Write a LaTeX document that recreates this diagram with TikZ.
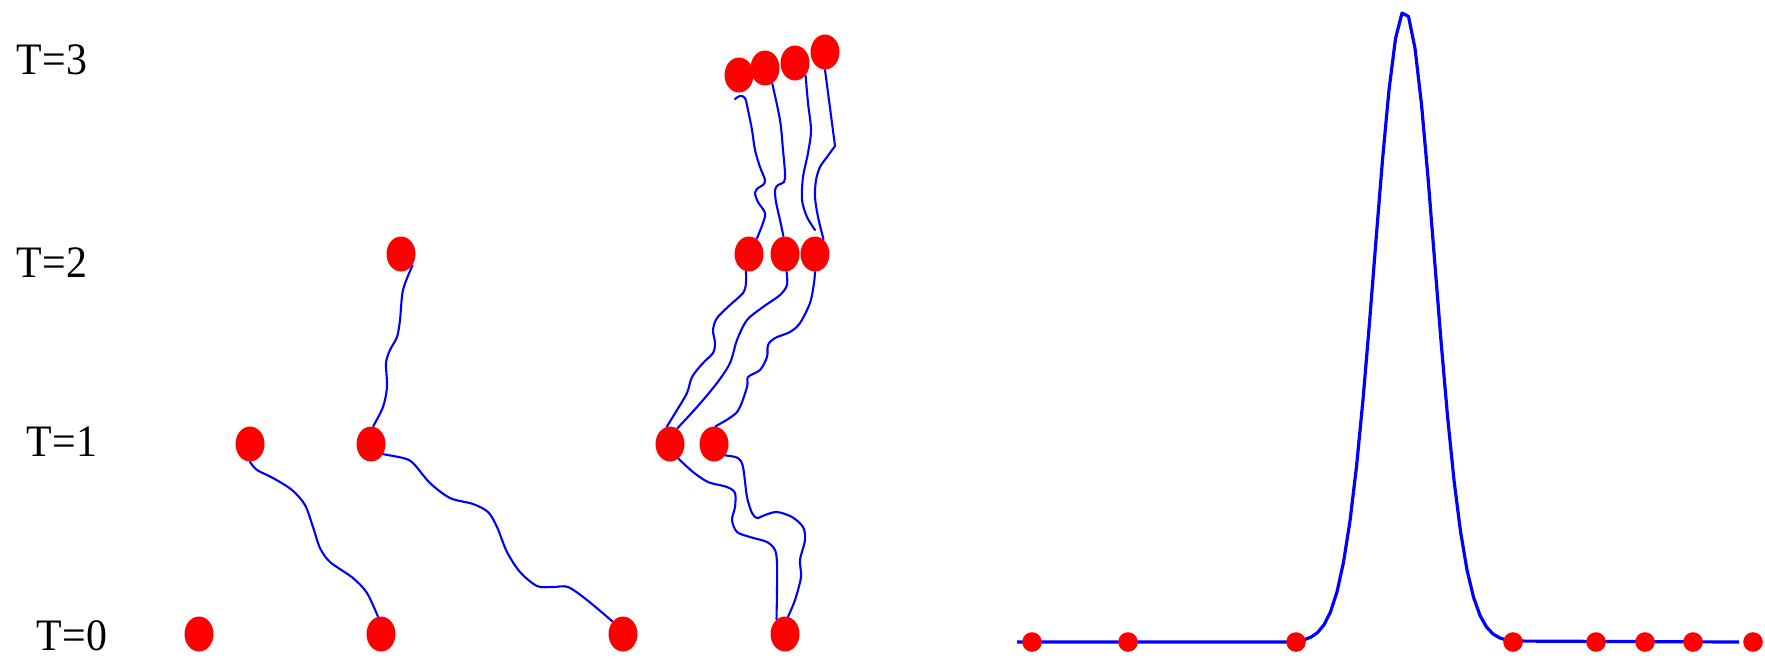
\documentclass[tikz,border=0pt]{standalone}
\usepackage{fontspec}
\setmainfont{Liberation Serif}
\newfontfamily\lblfont[FakeStretch=0.93]{Liberation Serif}
\usetikzlibrary{shapes.geometric,backgrounds}
\begin{document}
\begin{tikzpicture}[x=0.5pt,y=-0.5pt,
  dot/.style={ellipse, fill=red, minimum width=14.5pt, minimum height=17.5pt, inner sep=0pt},
  sdot/.style={circle, fill=red, minimum size=9.8pt, inner sep=0pt},
  walk/.style={draw=blue, line width=1.05pt, line cap=round, line join=round},
  gauss/.style={draw=blue, line width=1.6pt, line join=round},
  lbl/.style={font=\lblfont\fontsize{22.5}{22.5}\selectfont, inner sep=0pt}]
\useasboundingbox (0,0) rectangle (1765,659);
% labels
\node[lbl] (l3) at (52,60) {T=3};
\node[lbl] (l2) at (52,263) {T=2};
\node[lbl] (l1) at (62,442) {T=1};
\node[lbl] (l0) at (72,636) {T=0};
% dots T=0
\node[dot] (t0a) at (199,634) {};
\node[dot] (t0b) at (381,634) {};
\node[dot] (t0c) at (623,634) {};
\node[dot] (t0d) at (785,634) {};
% dots T=1
\node[dot] (t1a) at (250,444) {};
\node[dot] (t1b) at (371,444) {};
\node[dot] (t1c) at (670,444) {};
\node[dot] (t1d) at (714,444) {};
% dots T=2
\node[dot] (t2a) at (401,254) {};
\node[dot] (t2b) at (749,254) {};
\node[dot] (t2c) at (785,254) {};
\node[dot] (t2d) at (815,254) {};
% dots T=3
\node[dot] (t3a) at (739,75) {};
\node[dot] (t3b) at (765,68) {};
\node[dot] (t3c) at (795,63) {};
\node[dot] (t3d) at (825,52) {};
\coordinate (f1end) at (735,99);
\coordinate (f3end) at (815,230);
\begin{scope}[on background layer]
% T0 -> T1
\draw[walk] plot[smooth] coordinates {(t1a.south) (257,470) (273,478) (292,490) (305,505) (313,527) (320,548) (330,562) (353,578) (367,593) (t0b.100)};
\draw[walk] plot[smooth] coordinates {(t1b.-40) (403,458) (413,463) (430,483) (450,498) (473,504) (488,512) (497,527) (507,552) (520,572) (537,586) (553,587) (568,587) (587,600) (t0c.130)};
\draw[walk] plot[smooth] coordinates {(t1c.-60) (693,472) (708,482) (727,487) (735,493) (735,507) (732,520) (737,532) (750,537) (767,542) (775,550) (777,563) (777,590) (t0d.120)};
\draw[walk] plot[smooth] coordinates {(t1d.-45) (738,458) (743,467) (747,497) (752,513) (757,518) (765,515) (777,512) (792,517) (803,527) (805,540) (800,560) (801,577) (795,600) (t0d.80)};
% T1 -> T2
\draw[walk] plot[smooth] coordinates {(t1b.83) (383,407) (387,387) (386,363) (390,350) (397,337) (400,320) (403,290) (t2a.-45)};
\draw[walk] plot[smooth] coordinates {(t1c.100) (677,410) (687,393) (692,377) (703,363) (713,353) (715,343) (713,330) (717,318) (730,305) (743,293) (746,283) (t2b.-100)};
\draw[walk] plot[smooth] coordinates {(t1c.65) (697,407) (717,383) (730,363) (737,340) (747,320) (763,307) (780,295) (787,285) (t2c.-85)};
\draw[walk] plot[smooth] coordinates {(t1d.85) (737,412) (747,387) (748,377) (760,370) (767,357) (768,345) (775,338) (790,332) (800,323) (810,303) (814,283) (t2d.south)};
% T2 -> T3
\draw[walk] plot[smooth] coordinates {(t2b.63) (763,223) (765,213) (758,202) (755,193) (758,188) (763,185) (765,180) (760,167) (755,150) (752,130) (748,110) (745,98) (740,96) (f1end)};
\draw[walk] plot[smooth] coordinates {(t2c.95) (780,220) (776,202) (775,190) (778,185) (784,182) (785,173) (783,150) (780,120) (t3b.-65)};
\draw[walk] plot[smooth] coordinates {(t3c.-50) (808,103) (811,130) (808,153) (803,177) (802,200) (807,217) (f3end)};
\draw[walk] (t3d.-90) -- (835,146) -- plot[smooth] coordinates {(835,146) (827,157) (820,167) (816,180) (815,197) (818,217) (t2d.60)};
\end{scope}
% right plot
\draw[gauss] (1017,642) -- (1298,642) -- plot[samples at={1298,1304.5,...,1513}] (\x, {642-631*exp(-0.5*((\x-1404.5)/30)^2)}) -- (1739,642);
\node[sdot] (b1) at (1032,642) {};
\node[sdot] (b2) at (1128,642) {};
\node[sdot] (b3) at (1296,642) {};
\node[sdot] (b4) at (1513,642) {};
\node[sdot] (b5) at (1596,642) {};
\node[sdot] (b6) at (1645,642) {};
\node[sdot] (b7) at (1693,642) {};
\node[sdot] (b8) at (1753,642) {};
\end{tikzpicture}
\end{document}
